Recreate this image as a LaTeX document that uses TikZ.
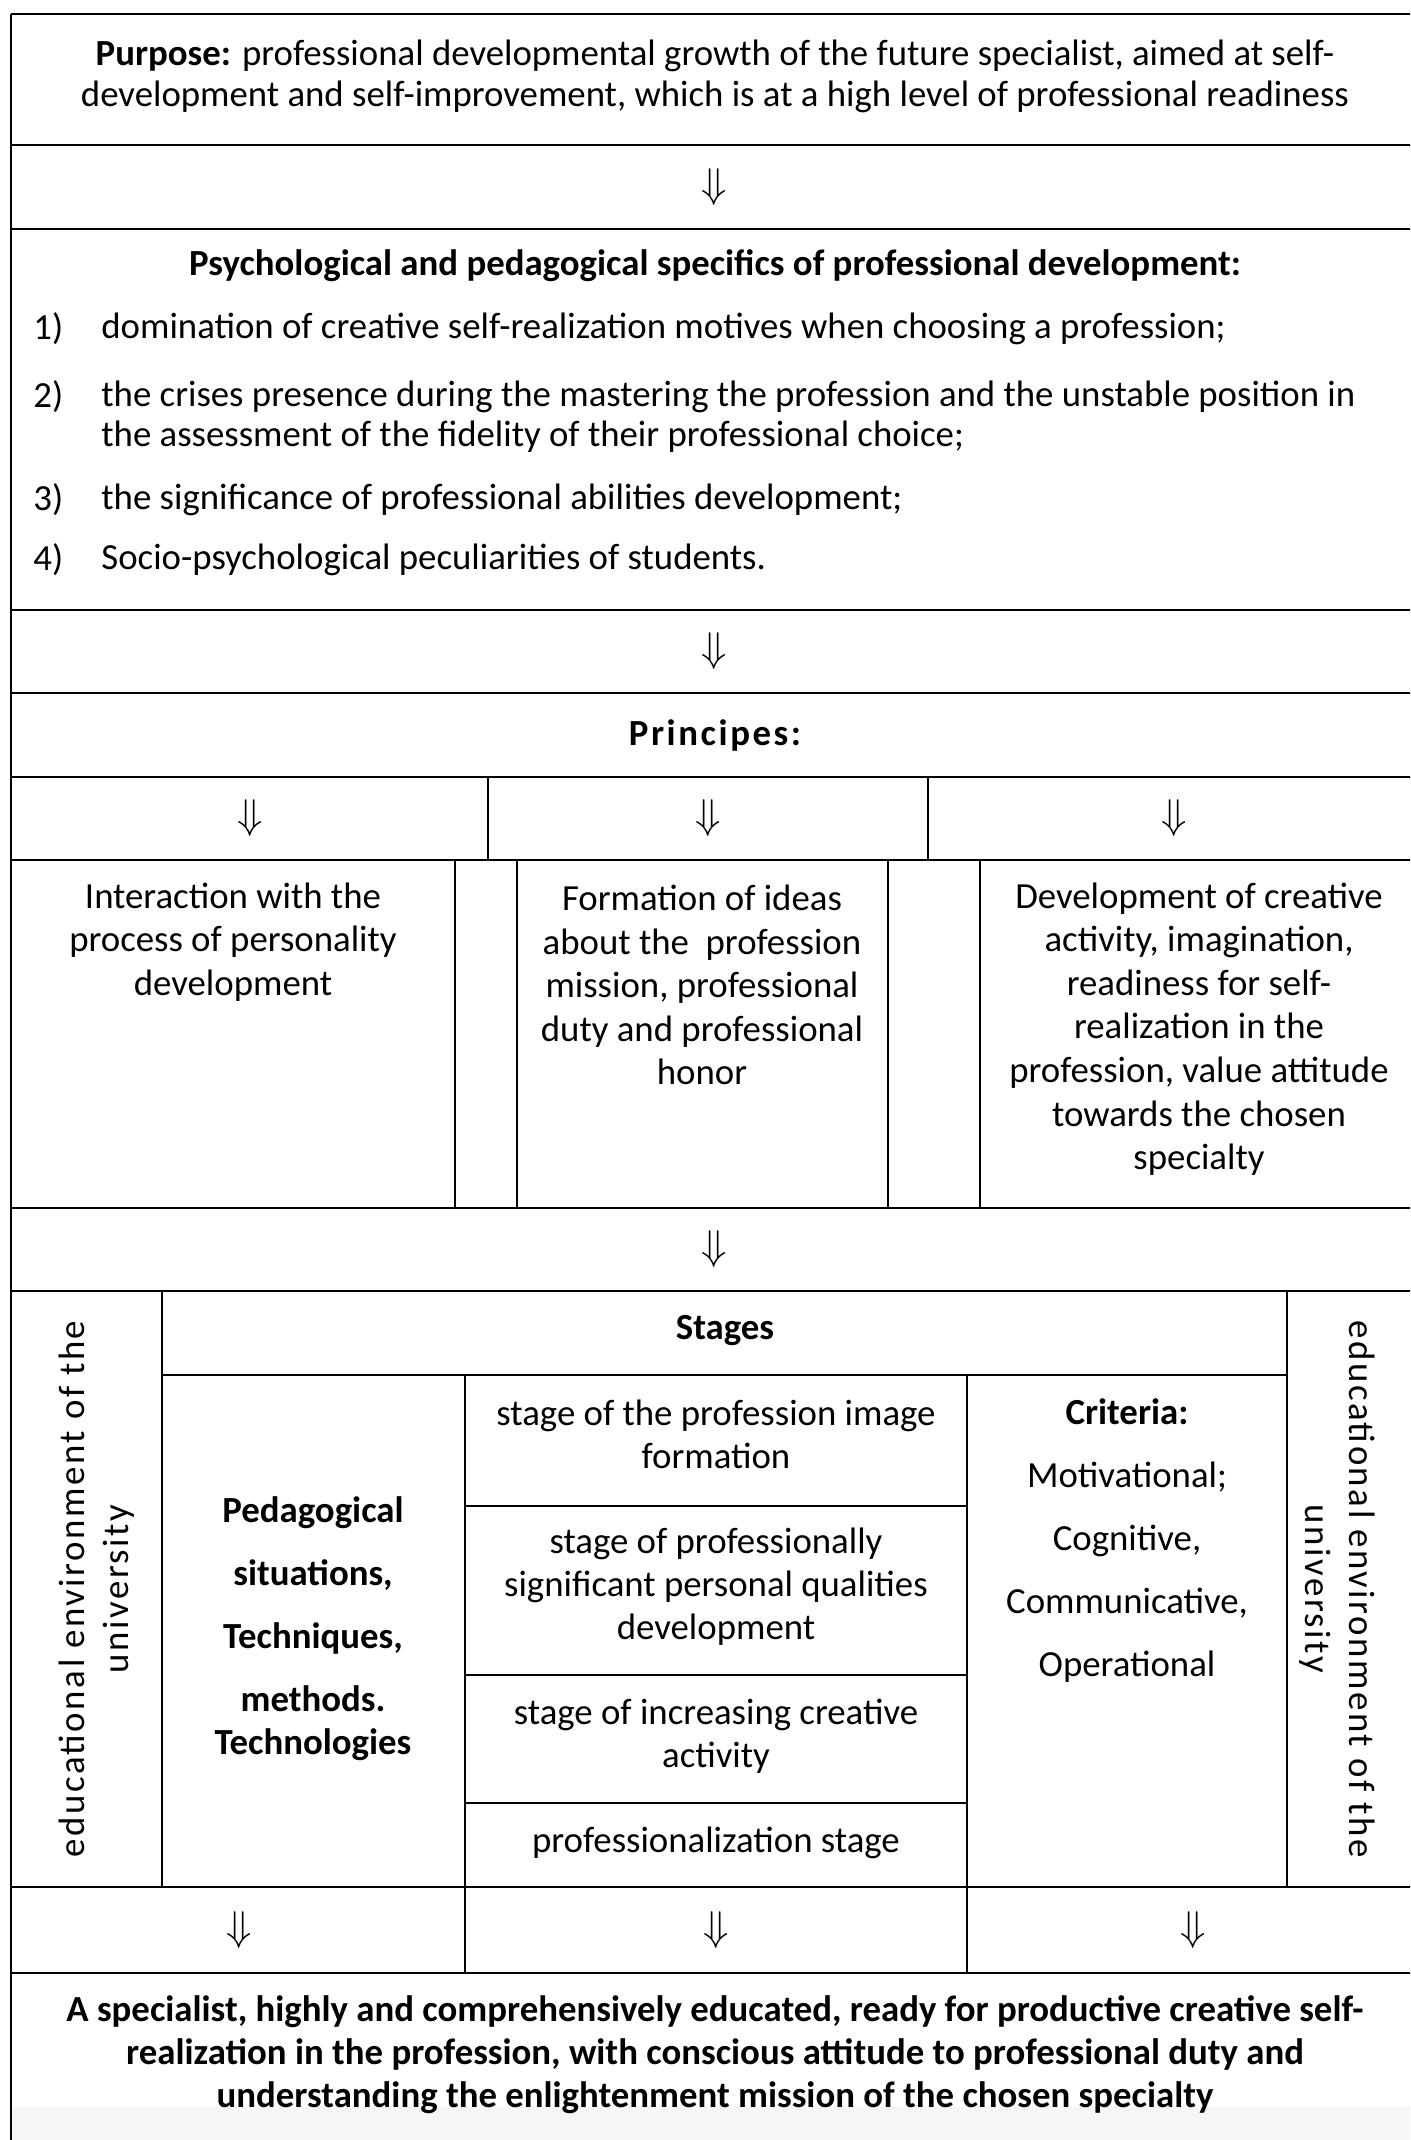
\documentclass[tikz,border=0pt]{standalone}
\usepackage{fontspec}
\setmainfont{Carlito}
\newfontfamily\spaced[LetterSpace=7]{Carlito}
\begin{document}
\begin{tikzpicture}[x=0.5pt,y=-0.5pt,
    txt/.style={align=center, inner sep=0pt, font=\fontsize{18.4}{20.5}\selectfont},
    lst/.style={align=left, anchor=west, inner sep=0pt, font=\fontsize{18.4}{20}\selectfont},
    arr/.style={inner sep=0pt, font=\fontsize{20}{20}\selectfont},
    row/.style={line width=1.3pt},
    col/.style={line width=1pt}]
\useasboundingbox (0,0) rectangle (1410,2140);
\clip (0,0) rectangle (1410,2140);
\fill[gray!7] (12,2107) rectangle (1420,2140);
% frame and rows
\draw[col] (11,14) -- (11,2140);
\draw[col] (1420,14) -- (1420,2140);
\foreach \y in {14,145,229,610,693,777,860,1208,1291,1887,1973}
  \draw[row] (11,\y) -- (1420,\y);
\draw[col] (488,777) -- (488,860);
\draw[col] (928,777) -- (928,860);
\foreach \x in {455,517,888,980}
  \draw[col] (\x,860) -- (\x,1208);
\draw[col] (162,1291) -- (162,1887);
\draw[col] (1287,1291) -- (1287,1887);
\draw[col] (162,1375) -- (1287,1375);
\draw[col] (465,1375) -- (465,1973);
\draw[col] (967,1375) -- (967,1973);
\foreach \y in {1506,1675,1803}
  \draw[col] (465,\y) -- (967,\y);

% purpose and specifics
\node [txt] (PU) at (715,76) {\textbf{Purpose:} professional developmental growth of the future specialist, aimed at self-\\development and self-improvement, which is at a high level of professional readiness};
\node [arr] (A1) at (714,187) {$\Downarrow$};
\node [txt, font=\fontsize{18.4}{20}\selectfont\bfseries] (PS) at (715,266) {Psychological and pedagogical specifics of professional development:};
\node [lst] (N1) at (33,329) {1)};
\node [lst] (N2) at (33,397) {2)};
\node [lst] (N3) at (33,500) {3)};
\node [lst] (N4) at (33,560) {4)};
\node [lst] (I1) at (101,329) {domination of creative self-realization motives when choosing a profession;};
\node [lst] (I2) at (101,417) {the crises presence during the mastering the profession and the unstable position in\\the assessment of the fidelity of their professional choice;};
\node [lst] (I3) at (101,500) {the significance of professional abilities development;};
\node [lst] (I4) at (101,560) {Socio-psychological peculiarities of students.};
\node [arr] (A2) at (714,651) {$\Downarrow$};

% principles
\node [txt, font=\fontsize{18.4}{20}\selectfont\spaced\bfseries] (PR) at (715,735) {Principes:};
\node [arr] (A3) at (250,818) {$\Downarrow$};
\node [arr] (A4) at (708,818) {$\Downarrow$};
\node [arr] (A5) at (1174,818) {$\Downarrow$};
\node [txt, font=\fontsize{18.4}{21.8}\selectfont] (P1) at (233,942) {Interaction with the\\process of personality\\development};
\node [txt, font=\fontsize{18.4}{21.8}\selectfont] (P2) at (702,985) {Formation of ideas\\about the \ profession\\mission, professional\\duty and professional\\honor};
\node [txt, font=\fontsize{18.4}{21.8}\selectfont] (P3) at (1199,1029) {Development of creative\\activity, imagination,\\readiness for self-\\realization in the\\profession, value attitude\\towards the chosen\\specialty};
\node [arr] (A6) at (714,1249) {$\Downarrow$};

% stages
\node [txt, rotate=90, font=\fontsize{18.4}{22}\selectfont\spaced] (EL) at (97,1589) {educational environment of the\\university};
\node [txt, rotate=-90, font=\fontsize{18.4}{22}\selectfont\spaced] (ER) at (1337,1589) {educational environment of the\\university};
\node [txt, font=\fontsize{18.4}{20}\selectfont\bfseries] (ST) at (725,1331) {Stages};
\node [txt, font=\fontsize{18.4}{21.5}\selectfont\bfseries] (PE) at (313,1629) {Pedagogical\\[10pt]situations,\\[10pt]Techniques,\\[10pt]methods.\\Technologies};
\node [txt, font=\fontsize{18.4}{21.5}\selectfont] (S1) at (716,1434) {stage of the profession image\\formation};
\node [txt, font=\fontsize{18.4}{21.5}\selectfont] (S2) at (716,1587) {stage of professionally\\significant personal qualities\\development};
\node [txt, font=\fontsize{18.4}{21.5}\selectfont] (S3) at (716,1736) {stage of increasing creative\\activity};
\node [txt, font=\fontsize{18.4}{21.5}\selectfont] (S4) at (716,1843) {professionalization stage};
\node [txt, font=\fontsize{18.4}{31.5}\selectfont] (CR) at (1127,1541) {\textbf{Criteria:}\\Motivational;\\Cognitive,\\Communicative,\\Operational};
\node [arr] (A7) at (239,1930) {$\Downarrow$};
\node [arr] (A8) at (716,1930) {$\Downarrow$};
\node [arr] (A9) at (1193,1930) {$\Downarrow$};

% result
\node [txt, font=\fontsize{18.4}{21.5}\selectfont\bfseries] (RE) at (715,2055) {A specialist, highly and comprehensively educated, ready for productive creative self-\\realization in the profession, with conscious attitude to professional duty and\\understanding the enlightenment mission of the chosen specialty};
\end{tikzpicture}
\end{document}
